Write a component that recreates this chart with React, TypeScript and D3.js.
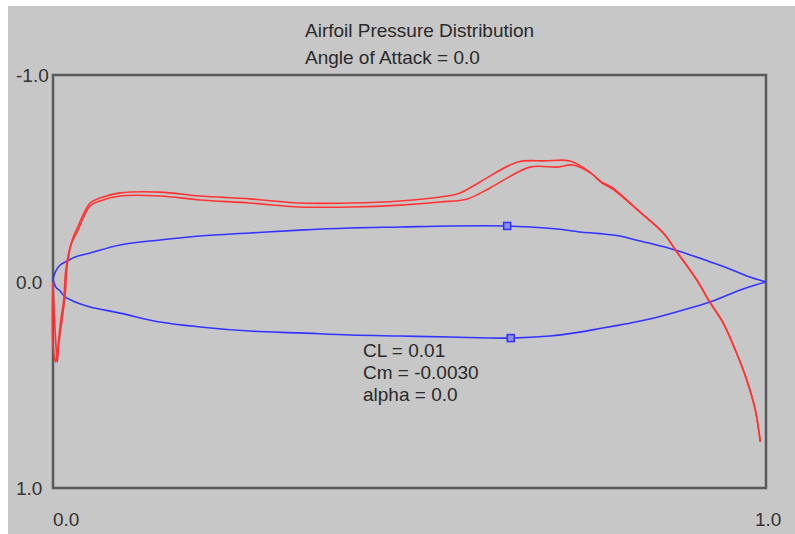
import React from "react";
import * as d3 from "d3";

// airfoil surfaces (x/chord, y in plot units; negative is up)
var upperX = [0, 0.004, 0.01, 0.02, 0.031, 0.052, 0.094, 0.15, 0.206, 0.276, 0.346, 0.417, 0.487, 0.557, 0.637, 0.669, 0.707, 0.739, 0.767, 0.795, 0.813, 0.837, 0.87, 0.893, 0.921, 0.949, 0.973, 1.0];
var upperY = [-0.012, -0.051, -0.08, -0.099, -0.119, -0.138, -0.177, -0.201, -0.22, -0.235, -0.249, -0.259, -0.264, -0.269, -0.269, -0.264, -0.254, -0.24, -0.232, -0.22, -0.205, -0.185, -0.155, -0.13, -0.096, -0.061, -0.027, 0.002];
var lowerX = [0, 0.004, 0.01, 0.017, 0.031, 0.052, 0.094, 0.15, 0.206, 0.276, 0.346, 0.417, 0.487, 0.557, 0.642, 0.697, 0.739, 0.767, 0.802, 0.837, 0.884, 0.921, 0.964, 0.985, 1.0];
var lowerY = [-0.012, 0.027, 0.046, 0.075, 0.099, 0.123, 0.153, 0.196, 0.22, 0.24, 0.249, 0.259, 0.264, 0.269, 0.274, 0.264, 0.245, 0.228, 0.206, 0.182, 0.138, 0.099, 0.041, 0.017, 0.002];

// pressure coefficient curves
var cpAX = [0, 0.003, 0.006, 0.008, 0.013, 0.017, 0.02, 0.027, 0.034, 0.052, 0.066, 0.094, 0.15, 0.206, 0.276, 0.346, 0.417, 0.487, 0.543, 0.571, 0.599, 0.652, 0.69, 0.725, 0.753, 0.767, 0.785, 0.823, 0.856, 0.875, 0.903, 0.921, 0.94, 0.957, 0.973, 0.985, 0.992];
var cpAY = [0.002, 0.235, 0.39, 0.308, 0.177, 0.07, -0.08, -0.201, -0.259, -0.38, -0.404, -0.429, -0.433, -0.414, -0.4, -0.38, -0.38, -0.39, -0.409, -0.429, -0.482, -0.579, -0.584, -0.584, -0.53, -0.487, -0.453, -0.337, -0.235, -0.143, -0.007, 0.099, 0.201, 0.332, 0.477, 0.622, 0.777];
var cpBX = [0, 0, 0.004, 0.007, 0.011, 0.015, 0.018, 0.025, 0.034, 0.052, 0.066, 0.094, 0.15, 0.206, 0.276, 0.346, 0.417, 0.487, 0.543, 0.581, 0.613, 0.669, 0.707, 0.729, 0.756, 0.77, 0.785, 0.823, 0.856, 0.875, 0.903, 0.921, 0.94, 0.957, 0.973, 0.985, 0.992];
var cpBY = [0.017, 0.308, 0.39, 0.308, 0.186, 0.09, -0.056, -0.177, -0.24, -0.366, -0.39, -0.414, -0.414, -0.395, -0.38, -0.361, -0.361, -0.37, -0.385, -0.4, -0.453, -0.554, -0.554, -0.564, -0.521, -0.477, -0.448, -0.337, -0.235, -0.143, -0.007, 0.099, 0.201, 0.332, 0.477, 0.622, 0.777];

var markers = [[0.637, -0.269], [0.642, 0.274]];

var titleLines = ["Airfoil Pressure Distribution", "Angle of Attack = 0.0"];
var yTicks = [-1, 0, 1];
var xTicks = [0, 1];
var infoLines = ["CL = 0.01", "Cm = -0.0030", "alpha = 0.0"];

var W = 795;
var H = 534;
var font = "'Liberation Sans', Arial, sans-serif";

function zip(xs: number[], ys: number[]): [number, number][] {
  return xs.map((x, i) => [x, ys[i]] as [number, number]);
}

export default function App() {
  var x = d3.scaleLinear().domain([0, 1]).range([53, 766]);
  var y = d3.scaleLinear().domain([-1, 1]).range([75, 488]);
  var line = d3
    .line<[number, number]>()
    .x(d => x(d[0]))
    .y(d => y(d[1]))
    .curve(d3.curveCatmullRom.alpha(0.5));

  return (
    <svg
      width={W}
      height={H}
      style={{ position: "absolute", left: 0, top: 0, display: "block" }}
    >
      <rect x={0} y={0} width={W} height={H} fill="#ffffff" />
      <rect x={8} y={6} width={W - 8} height={H - 6} fill="#c7c7c7" />

      {titleLines.map((t, i) => (
        <text
          key={t}
          x={305}
          y={37 + i * 27}
          fontFamily={font}
          fontSize={19}
          fill="#2a2a2a"
        >
          {t}
        </text>
      ))}

      <rect
        x={x(0)}
        y={y(-1)}
        width={x(1) - x(0)}
        height={y(1) - y(-1)}
        fill="none"
        stroke="#5a5a5a"
        strokeWidth={2.5}
      />

      {yTicks.map(t => (
        <text
          key={"y" + t}
          x={16}
          y={y(t) + 7}
          fontFamily={font}
          fontSize={19}
          fill="#333"
        >
          {t.toFixed(1)}
        </text>
      ))}
      {xTicks.map(t => (
        <text
          key={"x" + t}
          x={t === 0 ? x(t) : x(t) - 11}
          y={526}
          fontFamily={font}
          fontSize={19}
          fill="#333"
        >
          {t.toFixed(1)}
        </text>
      ))}

      <path d={line(zip(upperX, upperY)) || ""} fill="none" stroke="#3333ff" strokeWidth={1.6} />
      <path d={line(zip(lowerX, lowerY)) || ""} fill="none" stroke="#3333ff" strokeWidth={1.6} />

      <path d={line(zip(cpAX, cpAY)) || ""} fill="none" stroke="#ff3333" strokeWidth={1.6} />
      <path d={line(zip(cpBX, cpBY)) || ""} fill="none" stroke="#ff3333" strokeWidth={1.6} />

      {markers.map((m, i) => (
        <rect
          key={i}
          x={x(m[0]) - 3.5}
          y={y(m[1]) - 3.5}
          width={7}
          height={7}
          fill="#8f8fe8"
          stroke="#2f2fff"
          strokeWidth={1.5}
        />
      ))}

      {infoLines.map((t, i) => (
        <text
          key={t}
          x={363}
          y={357 + i * 22}
          fontFamily={font}
          fontSize={19}
          fill="#2a2a2a"
        >
          {t}
        </text>
      ))}
    </svg>
  );
}
